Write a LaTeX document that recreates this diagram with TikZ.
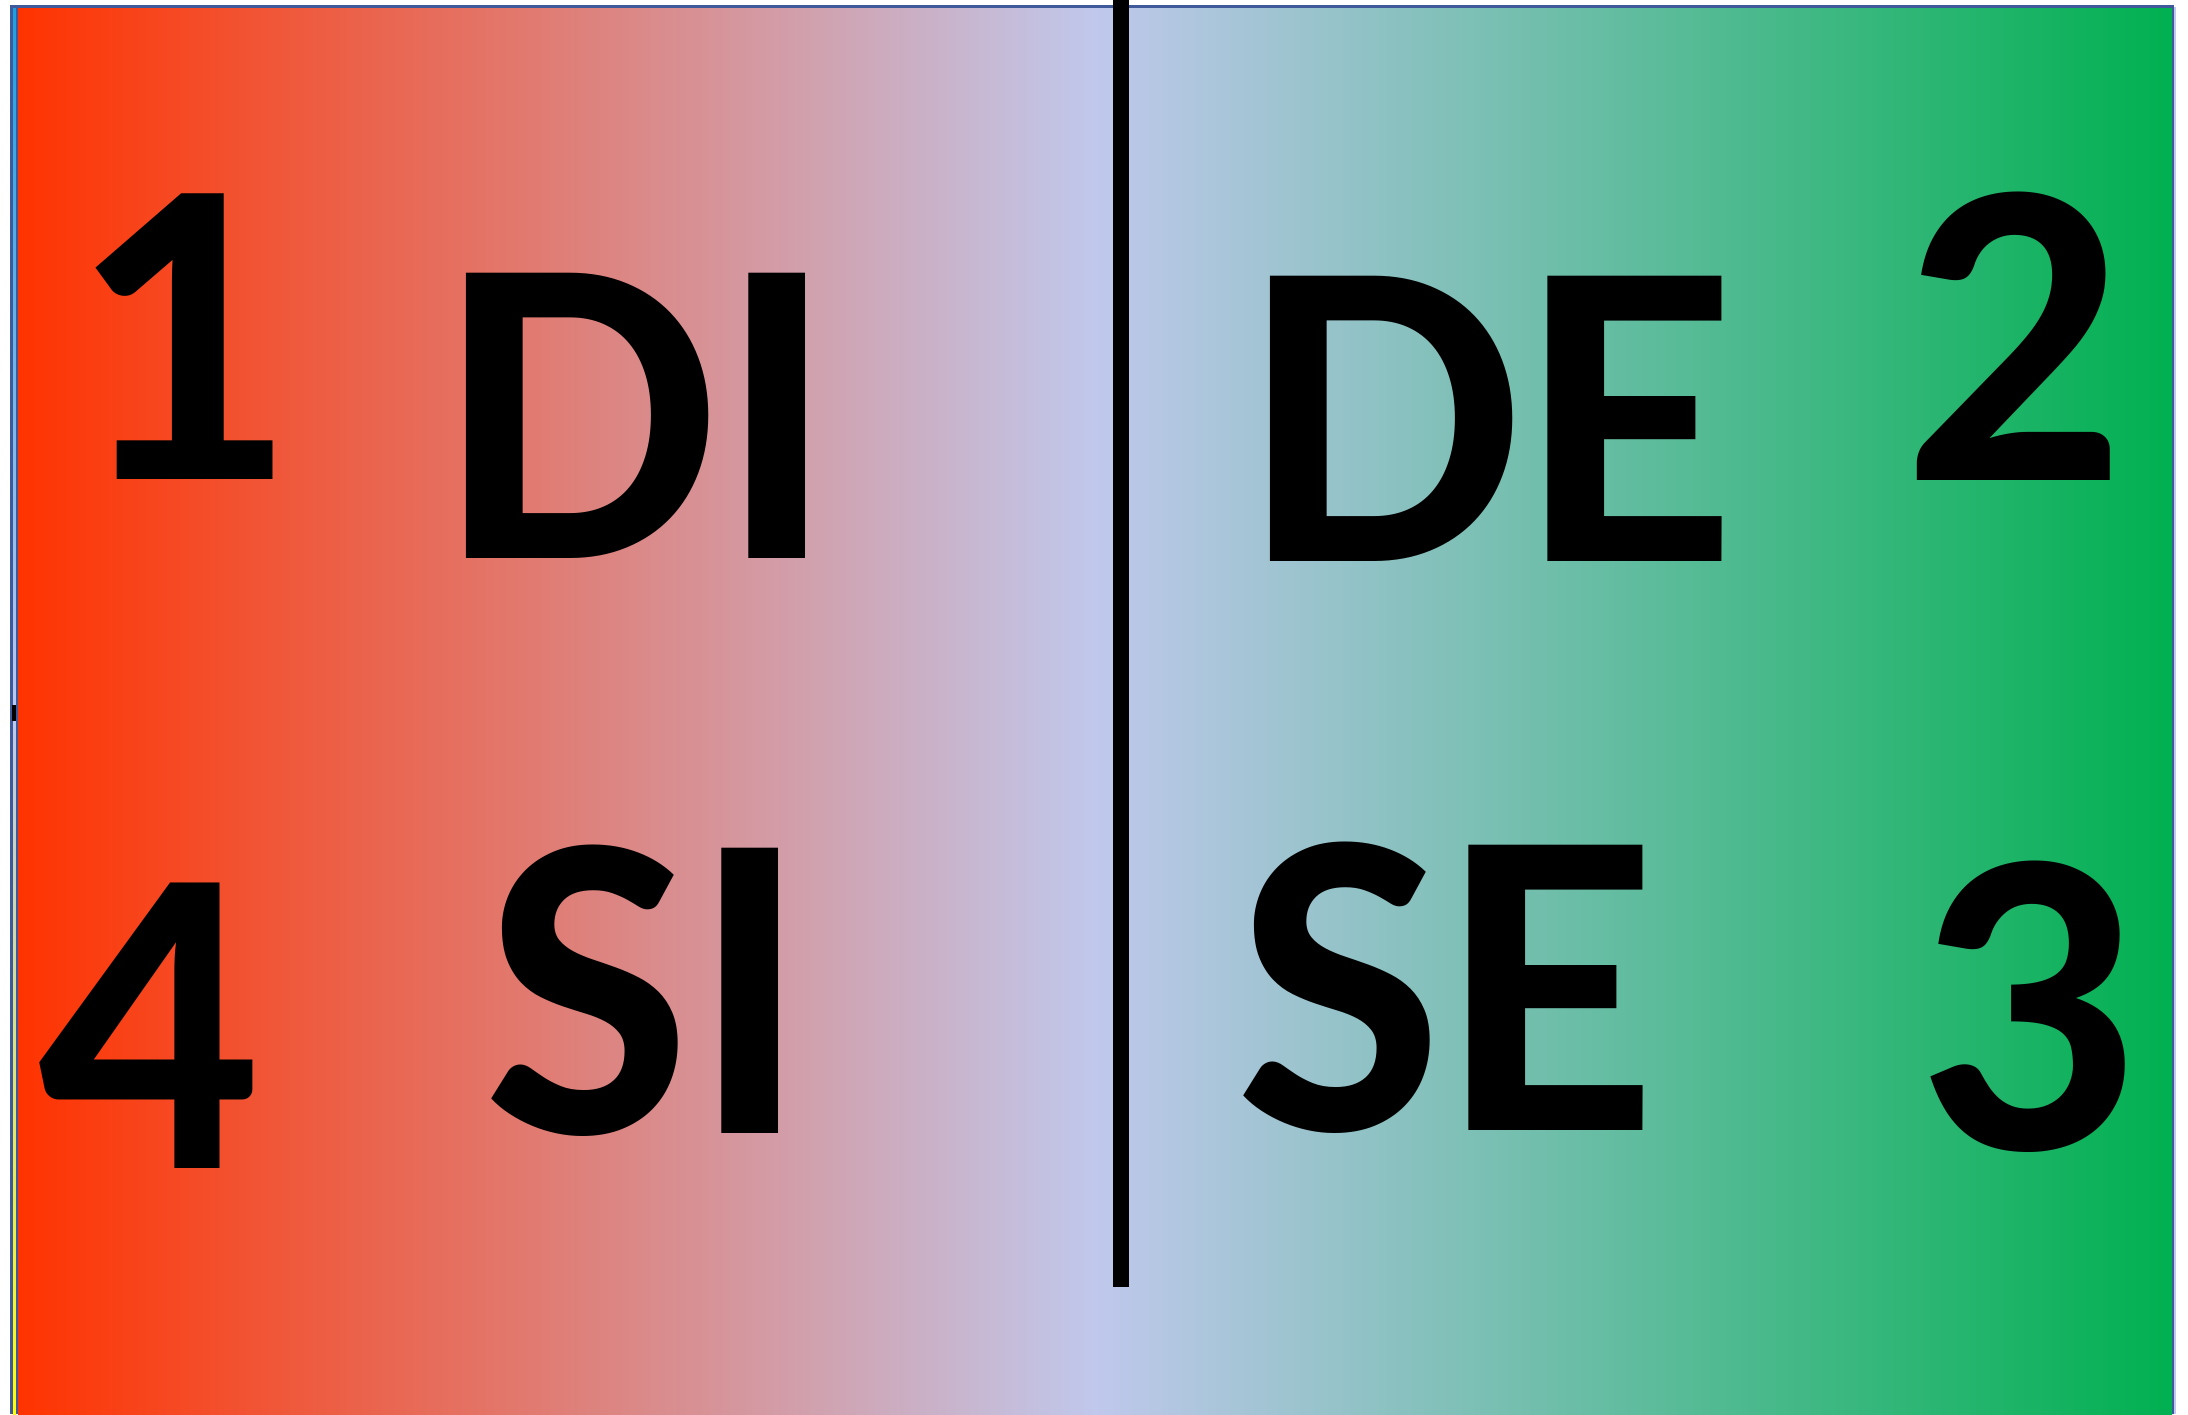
\documentclass[tikz,border=0pt]{standalone}
\usepackage{fontspec}
\setmainfont{Carlito}
\definecolor{orgred}{RGB}{255,51,0}
\definecolor{lav}{RGB}{192,200,236}
\definecolor{offgreen}{RGB}{0,176,80}
\definecolor{framebl}{RGB}{63,90,154}
\definecolor{stripecyan}{RGB}{28,160,224}
\definecolor{stripeyel}{RGB}{255,255,0}
\definecolor{stripelav}{RGB}{190,200,240}
\begin{document}
\begin{tikzpicture}[x=0.5pt,y=-0.5pt,
  big/.style={inner sep=0pt,anchor=base,font=\fontsize{220}{220}\selectfont\bfseries,text=black}]
\useasboundingbox (0,0) rectangle (2188,1414);
\fill[white] (0,0) rectangle (2188,1414);
% left stripe with vertical gradient
\shade[top color=stripecyan,bottom color=stripeyel,middle color=stripelav] (13,5) rectangle (16,1414);
% main horizontal gradient
\shade[left color=orgred,right color=offgreen,middle color=lav] (18,7) rectangle (2172,1414);
% frame lines
\fill[framebl] (10,5) rectangle (13,1414);
\fill[framebl] (16,5) rectangle (18,1414);
\fill[framebl] (10,5) rectangle (2174,7.5);
\fill[framebl] (2172,5) rectangle (2174,1414);
\fill[stripelav] (2174,7) rectangle (2176,1414);
% small mark on the left
\fill[black] (12,705) rectangle (16,721);
% centre divider
\fill[black] (1113,0) rectangle (1129,1287);
% labels
\node[big] (n1) at (178,479) {1};
\node[big] (di) at (639,558) {DI};
\node[big] (de) at (1491,561) {DE};
\node[big] (n2) at (2014,480) {2};
\node[big] (n4) at (148,1168) {4};
\node[big] (si) at (646,1133) {SI};
\node[big] (se) at (1447,1130) {SE};
\node[big] (n3) at (2026,1149) {3};
\end{tikzpicture}
\end{document}
